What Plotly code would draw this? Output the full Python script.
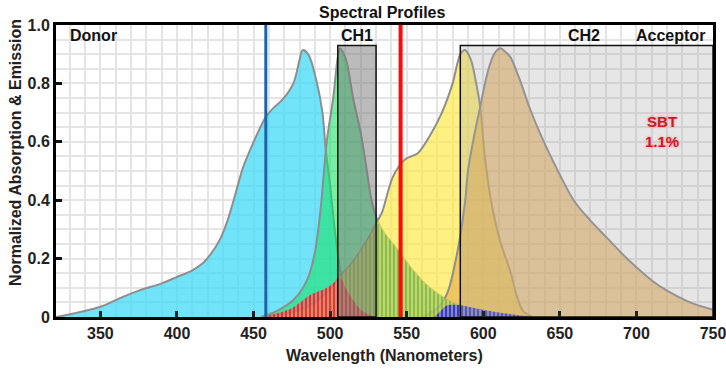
import plotly.graph_objects as go

# ---------------- data ----------------
donor_abs_nm = [321, 335, 350, 365, 376, 390, 400, 410, 417, 422, 428, 433, 437, 443, 448,
                454, 458, 463, 469, 476, 480, 482, 486, 491, 495, 497, 500, 503, 507, 512, 520, 530]
donor_abs = [0.0, 0.015, 0.035, 0.07, 0.092, 0.115, 0.137, 0.16, 0.185, 0.215, 0.265, 0.33, 0.40,
             0.51, 0.575, 0.645, 0.685, 0.716, 0.745, 0.80, 0.88, 0.914, 0.897, 0.81, 0.70, 0.58,
             0.45, 0.30, 0.15, 0.06, 0.02, 0.0]

donor_em_nm = [455, 465, 476, 485, 490, 494, 496, 498, 502, 505, 506.5, 509, 511, 515, 520,
               524, 527, 531, 535, 544, 554, 565, 576, 587, 600, 615, 630]
donor_em = [0.0, 0.02, 0.058, 0.127, 0.22, 0.38, 0.50, 0.61, 0.75, 0.89, 0.92, 0.90, 0.87,
            0.75, 0.63, 0.50, 0.40, 0.33, 0.29, 0.23, 0.16, 0.10, 0.06, 0.035, 0.015, 0.005, 0.0]

acc_abs_nm = [455, 470, 480, 490, 500, 505, 515, 525, 531, 534, 541, 549, 557, 565, 573, 580,
              585, 588, 592, 595, 598, 601, 605, 611, 618, 622, 626, 632]
acc_abs = [0.0, 0.01, 0.025, 0.05, 0.095, 0.13, 0.19, 0.27, 0.33, 0.36, 0.48, 0.54, 0.56, 0.62,
           0.70, 0.80, 0.90, 0.914, 0.88, 0.81, 0.72, 0.55, 0.40, 0.26, 0.15, 0.07, 0.02, 0.0]

acc_em_nm = [560, 570, 576.5, 583, 588, 590, 594, 598, 602.7, 607, 611, 614, 617.7, 624, 630,
             637, 645, 659, 670, 681, 690, 700, 710, 720, 735, 750]
acc_em = [0.0, 0.03, 0.082, 0.22, 0.39, 0.50, 0.62, 0.72, 0.835, 0.90, 0.92, 0.91, 0.89, 0.81,
          0.72, 0.63, 0.54, 0.40, 0.33, 0.27, 0.22, 0.17, 0.125, 0.09, 0.05, 0.025]

# bleed-through / overlap regions (hatched)
overlap_nm = [505, 510, 515, 520, 525, 531, 535, 544, 554, 565, 576, 587, 600, 615, 630]
overlap = [0.13, 0.16, 0.19, 0.23, 0.27, 0.32, 0.29, 0.23, 0.16, 0.10, 0.06, 0.035, 0.015, 0.005, 0.0]

red_nm = [455, 461, 475, 487, 498, 503, 506.5, 510, 515, 520, 526, 530]
red_v = [0.0, 0.007, 0.03, 0.075, 0.10, 0.12, 0.134, 0.10, 0.058, 0.025, 0.007, 0.0]

blue_nm = [568, 572, 576.5, 582, 588, 595, 605, 615, 625, 632]
blue_v = [0.0, 0.02, 0.04, 0.042, 0.038, 0.03, 0.02, 0.012, 0.005, 0.0]

# excitation lasers
laser_nm = [458, 546]
laser_colors = ["#1c63a8", "#ff0a0a"]
laser_widths = [3, 4]

# detection channels
ch_names = ["CH1", "CH2"]
ch_start = [505, 585]
ch_end = [530, 750]
ch_top = 0.93

x_ticks = [350, 400, 450, 500, 550, 600, 650, 700, 750]
y_ticks = [0, 0.2, 0.4, 0.6, 0.8, 1.0]
y_ticklabels = ["0", "0.2", "0.4", "0.6", "0.8", "1.0"]

FONT = "Liberation Sans, Arial, sans-serif"
OUTLINE = "#8e8e8e"

fig = go.Figure()


def filled_curve(x, y, fillcolor):
    fig.add_trace(go.Scatter(
        x=x, y=y, mode="lines", fill="tozeroy", fillcolor=fillcolor,
        line=dict(color=OUTLINE, width=2, shape="spline", smoothing=0.9),
        hoverinfo="skip", showlegend=False))


def hatched(x, y, fg, bg):
    fig.add_trace(go.Scatter(
        x=x, y=y, mode="lines", fill="tozeroy",
        line=dict(width=0, shape="spline", smoothing=0.9, color=fg),
        fillpattern=dict(shape="|", size=4, solidity=0.35, fgcolor=fg, bgcolor=bg,
                         fillmode="replace"),
        hoverinfo="skip", showlegend=False))


filled_curve(donor_abs_nm, donor_abs, "rgba(60,218,246,0.72)")
filled_curve(donor_em_nm, donor_em, "rgba(20,225,100,0.58)")
filled_curve(acc_abs_nm, acc_abs, "rgba(255,234,70,0.68)")
filled_curve(acc_em_nm, acc_em, "rgba(230,170,75,0.6)")

hatched(overlap_nm, overlap, "rgba(110,150,50,0.75)", "rgba(175,215,110,0.75)")
hatched(red_nm, red_v, "rgba(200,20,20,0.9)", "rgba(240,110,110,0.8)")
hatched(blue_nm, blue_v, "rgba(20,20,170,0.9)", "rgba(110,110,230,0.75)")

# channel boxes
ch_fills = ["rgba(120,120,120,0.5)", "rgba(165,165,170,0.28)"]
for name, s, e, fc in zip(ch_names, ch_start, ch_end, ch_fills):
    fig.add_trace(go.Scatter(
        x=[s, s, e, e, s], y=[0, ch_top, ch_top, 0, 0], mode="lines", fill="toself",
        fillcolor=fc, line=dict(color="#111111", width=1.5),
        hoverinfo="skip", showlegend=False))

# laser lines
for nm, c, w in zip(laser_nm, laser_colors, laser_widths):
    fig.add_trace(go.Scatter(
        x=[nm, nm], y=[0, 1], mode="lines", line=dict(color=c, width=w),
        hoverinfo="skip", showlegend=False))

label_font = dict(family=FONT, size=16, color="#111111", weight="bold")
annotations = [
    dict(x=329, y=0.965, text="Donor", xanchor="left"),
    dict(x=(ch_start[0] + ch_end[0]) / 2, y=0.965, text=ch_names[0], xanchor="center"),
    dict(x=666, y=0.965, text=ch_names[1], xanchor="center"),
    dict(x=746, y=0.965, text="Acceptor", xanchor="right"),
]
annotations = [dict(a, xref="x", yref="y", yanchor="middle", showarrow=False, font=label_font)
               for a in annotations]
annotations.append(dict(
    x=717, y=0.635, xref="x", yref="y", text="SBT<br>1.1%", showarrow=False,
    align="center", font=dict(family=FONT, size=15, color="#c41e2a", weight="bold",
                              shadow="0px 0px 3px rgba(255,120,120,0.9)")))
annotations.append(dict(
    x=0.5, y=0, xref="paper", yref="paper", yanchor="top", yshift=-28,
    text="Wavelength (Nanometers)", showarrow=False,
    font=dict(family=FONT, size=16, color="#222222", weight="bold")))
annotations.append(dict(
    x=0, y=0.562, xref="paper", yref="paper", xanchor="center", yanchor="middle", xshift=-40,
    textangle=-90, text="Normalized Absorption & Emission", showarrow=False,
    font=dict(family=FONT, size=16, color="#222222", weight="bold")))

grid_col = "#e4e4e4"
fig.update_layout(
    width=726, height=369,
    margin=dict(l=56, r=13, t=25, b=52, autoexpand=False),
    paper_bgcolor="white", plot_bgcolor="white",
    title=dict(text="Spectral Profiles", x=0.5265, xanchor="center", y=0.967, yanchor="middle",
               font=dict(family=FONT, size=16, color="#111111", weight="bold")),
    annotations=annotations,
    xaxis=dict(range=[321, 750], tickmode="array", tickvals=x_ticks, automargin=False,
               ticklabeloverflow="allow",
               ticks="inside", ticklen=6, tickwidth=2.5, tickcolor="#222222",
               showline=True, linecolor="#000000", linewidth=3, mirror=True,
               showgrid=True, gridcolor=grid_col, gridwidth=2, zeroline=False,
               minor=dict(tickmode="linear", tick0=0, dtick=10, showgrid=True,
                          gridcolor=grid_col, gridwidth=2, ticks=""),
               tickfont=dict(family=FONT, size=16, color="#222222", weight="bold")),
    yaxis=dict(range=[0, 1.0], tickmode="array", tickvals=y_ticks, ticktext=y_ticklabels,
               automargin=False, ticklabeloverflow="allow",
               ticks="inside", ticklen=6, tickwidth=2.5, tickcolor="#111111",
               showline=True, linecolor="#000000", linewidth=3, mirror=True,
               showgrid=True, gridcolor=grid_col, gridwidth=2, zeroline=False,
               minor=dict(tickmode="linear", tick0=0, dtick=0.05, showgrid=True,
                          gridcolor=grid_col, gridwidth=2, ticks=""),
               tickfont=dict(family=FONT, size=16, color="#222222", weight="bold")),
)

fig.write_html("out.html")
